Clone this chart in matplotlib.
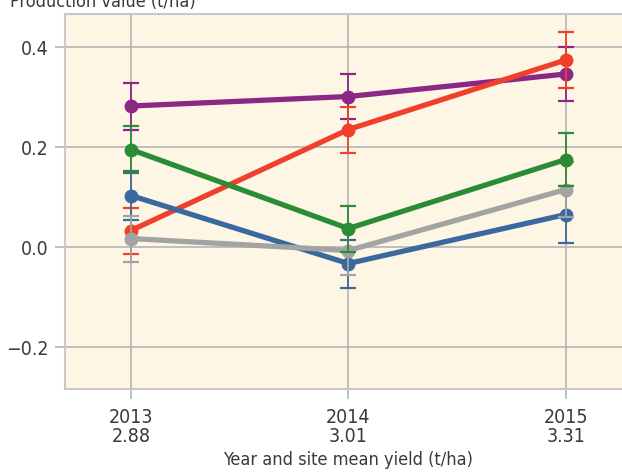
import matplotlib
matplotlib.use('Agg')
import matplotlib.pyplot as plt
import numpy as np

# treatment means per year, with standard errors
years = ['2013\n2.88', '2014\n3.01', '2015\n3.31']
purple_vals = [0.282, 0.301, 0.346]
purple_err = [0.047, 0.045, 0.054]
red_vals = [0.033, 0.235, 0.374]
red_err = [0.046, 0.046, 0.056]
blue_vals = [0.103, -0.033, 0.065]
blue_err = [0.049, 0.048, 0.057]
gray_vals = [0.017, -0.007, 0.115]
gray_err = [0.046, 0.048, 0.055]
green_vals = [0.195, 0.037, 0.175]
green_err = [0.047, 0.046, 0.053]

plt.rcParams['font.family'] = ['DejaVu Sans']
plt.rcParams['font.stretch'] = 'condensed'
txt = '#3a3a3a'

fig = plt.figure(figsize=(6.22, 4.75), dpi=100)
ax = fig.add_axes([0.1045, 0.181, 0.91, 0.7895])
ax.set_facecolor('#fef6e5')

x = np.arange(len(years))
series = [
    (purple_vals, purple_err, '#8b2886'),
    (red_vals, red_err, '#f0402b'),
    (blue_vals, blue_err, '#3a69a0'),
    (gray_vals, gray_err, '#a3a3a3'),
    (green_vals, green_err, '#2b8c36'),
]
for i, (vals, err, c) in enumerate(series):
    ax.errorbar(x, vals, yerr=err, color=c, lw=3.8, marker='o', ms=9,
                ecolor=c, elinewidth=1.3, capsize=5.5, capthick=1.6,
                zorder=3 + i)

ax.set_xlim(-0.303, 2.3)
ax.set_ylim(-0.284, 0.466)
ax.set_xticks(x)
ax.set_xticklabels(years)
ax.set_yticks([-0.2, 0.0, 0.2, 0.4])

ax.grid(True, color='#b4b4b4', lw=1.2, zorder=0)
ax.set_axisbelow(True)
for s in ax.spines.values():
    s.set_color('#c8c8c8')
    s.set_linewidth(1.5)
ax.tick_params(axis='both', length=7.5, width=1.2, color='#b4b4b4',
               labelsize=14, labelcolor=txt, pad=4)
ax.tick_params(axis='x', pad=6)
for lab in ax.get_xticklabels():
    lab.set_linespacing(1.0)

ax.set_xlabel('Year and site mean yield (t/ha)', fontsize=13, color=txt, labelpad=4)
fig.text(0.016, 0.995, 'Production value (t/ha)', fontsize=13, color=txt,
         ha='left', va='center')

fig.savefig('out.png', dpi=100)
